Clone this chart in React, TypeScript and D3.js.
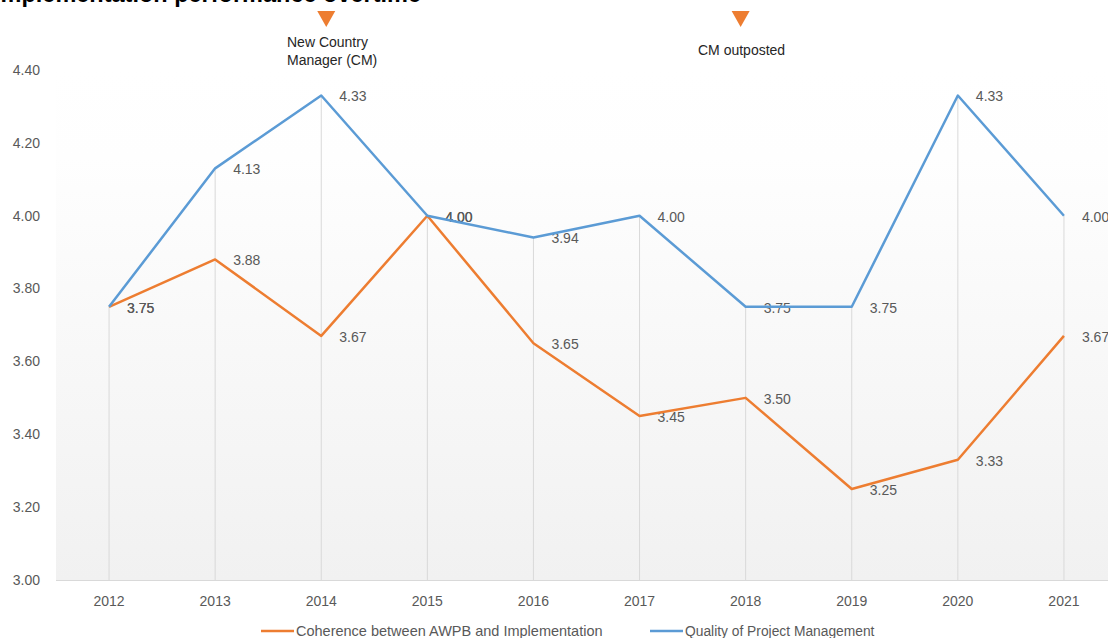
import React, { useEffect, useRef } from 'react';
import * as d3 from 'd3';

const years = ['2012', '2013', '2014', '2015', '2016', '2017', '2018', '2019', '2020', '2021'];
const coherence = [3.75, 3.88, 3.67, 4.0, 3.65, 3.45, 3.5, 3.25, 3.33, 3.67];
const quality = [3.75, 4.13, 4.33, 4.0, 3.94, 4.0, 3.75, 3.75, 4.33, 4.0];
const yTicks = [3.0, 3.2, 3.4, 3.6, 3.8, 4.0, 4.2, 4.4];
const seriesNames = ['Coherence between AWPB and Implementation', 'Quality of Project Management'];
const events = [
  { year: '2014', lines: ['New Country', 'Manager (CM)'] },
  { year: '2018', lines: ['CM outposted'] },
];

const ORANGE = '#ed7d31';
const BLUE = '#5b9bd5';
const FONT = '"Liberation Sans", Arial, sans-serif';

export default function App() {
  const ref = useRef<SVGSVGElement>(null);

  useEffect(() => {
    const svg = d3.select(ref.current);
    svg.selectAll('*').remove();

    const width = 1108;
    const height = 638;
    const plot = { left: 56, right: 1117, top: 70, bottom: 580 };

    const x = d3.scalePoint<string>()
      .domain(years)
      .range([plot.left, plot.right])
      .padding(0.5);

    const y = d3.scaleLinear()
      .domain([3, 4.4])
      .range([plot.bottom, plot.top]);

    // plot background gradient
    const defs = svg.append('defs');
    const grad = defs.append('linearGradient')
      .attr('id', 'bg')
      .attr('x1', 0).attr('y1', 0).attr('x2', 0).attr('y2', 1);
    grad.append('stop').attr('offset', '0%').attr('stop-color', '#ffffff');
    grad.append('stop').attr('offset', '17%').attr('stop-color', '#fefefe');
    grad.append('stop').attr('offset', '100%').attr('stop-color', '#f1f1f1');

    svg.append('rect')
      .attr('x', plot.left)
      .attr('y', plot.top)
      .attr('width', plot.right - plot.left)
      .attr('height', plot.bottom - plot.top)
      .attr('fill', 'url(#bg)');

    // title, cropped at the top like in the source screenshot
    svg.append('text')
      .attr('x', -6)
      .attr('y', 2)
      .attr('font-family', FONT)
      .attr('font-size', 23.5)
      .attr('font-weight', 'bold')
      .attr('fill', '#000')
      .text('Implementation performance overtime');

    // drop lines
    svg.append('g')
      .selectAll('line')
      .data(years)
      .enter()
      .append('line')
      .attr('x1', d => x(d)!)
      .attr('x2', d => x(d)!)
      .attr('y1', (d, i) => y(Math.max(coherence[i], quality[i])))
      .attr('y2', plot.bottom)
      .attr('stroke', '#d9d9d9')
      .attr('stroke-width', 1);

    // x axis line
    svg.append('line')
      .attr('x1', plot.left)
      .attr('x2', width)
      .attr('y1', plot.bottom + 0.5)
      .attr('y2', plot.bottom + 0.5)
      .attr('stroke', '#d9d9d9');

    // y tick labels
    svg.append('g')
      .selectAll('text')
      .data(yTicks)
      .enter()
      .append('text')
      .attr('x', 40)
      .attr('y', d => y(d))
      .attr('dy', '0.35em')
      .attr('text-anchor', 'end')
      .attr('font-family', FONT)
      .attr('font-size', 14)
      .attr('fill', '#595959')
      .text(d => d3.format('.2f')(d));

    // x tick labels
    svg.append('g')
      .selectAll('text')
      .data(years)
      .enter()
      .append('text')
      .attr('x', d => x(d)!)
      .attr('y', 606)
      .attr('text-anchor', 'middle')
      .attr('font-family', FONT)
      .attr('font-size', 14)
      .attr('fill', '#595959')
      .text(d => d);

    const series = [
      { values: coherence, color: ORANGE },
      { values: quality, color: BLUE },
    ];

    // data labels (drawn under lines)
    series.forEach(s => {
      svg.append('g')
        .selectAll('text')
        .data(s.values)
        .enter()
        .append('text')
        .attr('x', (d, i) => x(years[i])! + 18)
        .attr('y', d => y(d) + 1)
        .attr('dy', '0.35em')
        .attr('font-family', FONT)
        .attr('font-size', 14)
        .attr('fill', '#595959')
        .text(d => d3.format('.2f')(d));
    });

    const line = d3.line<number>()
      .x((d, i) => x(years[i])!)
      .y(d => y(d));

    series.forEach(s => {
      svg.append('path')
        .datum(s.values)
        .attr('d', line)
        .attr('fill', 'none')
        .attr('stroke', s.color)
        .attr('stroke-width', 2.5)
        .attr('stroke-linejoin', 'round');
    });

    // event markers
    events.forEach(ev => {
      const cx = x(ev.year)! + (ev.year === '2014' ? 5 : -5);
      svg.append('path')
        .attr('d', `M${cx - 9},11 L${cx + 9},11 L${cx},27 Z`)
        .attr('fill', ORANGE);
      const t = svg.append('text')
        .attr('font-family', FONT)
        .attr('font-size', 14)
        .attr('fill', '#262626');
      ev.lines.forEach((l, i) => {
        t.append('tspan')
          .attr('x', ev.year === '2014' ? 287 : 698)
          .attr('y', ev.lines.length > 1 ? 47 + i * 18 : 55)
          .text(l);
      });
    });

    // legend
    const legendX = [261, 650];
    const legendSize = [14.5, 13.8];
    series.forEach((s, i) => {
      const g = svg.append('g').attr('transform', `translate(${legendX[i]},631)`);
      g.append('line')
        .attr('x1', 0).attr('x2', 33)
        .attr('y1', 0).attr('y2', 0)
        .attr('stroke', s.color)
        .attr('stroke-width', 2.5);
      g.append('text')
        .attr('x', 35)
        .attr('y', 0)
        .attr('dy', '0.35em')
        .attr('font-family', FONT)
        .attr('font-size', legendSize[i])
        .attr('fill', '#595959')
        .text(seriesNames[i]);
    });

    svg.attr('width', width).attr('height', height);
  }, []);

  return (
    <svg
      ref={ref}
      width={1108}
      height={638}
      style={{ position: 'absolute', left: 0, top: 0, background: '#fff' }}
    />
  );
}
